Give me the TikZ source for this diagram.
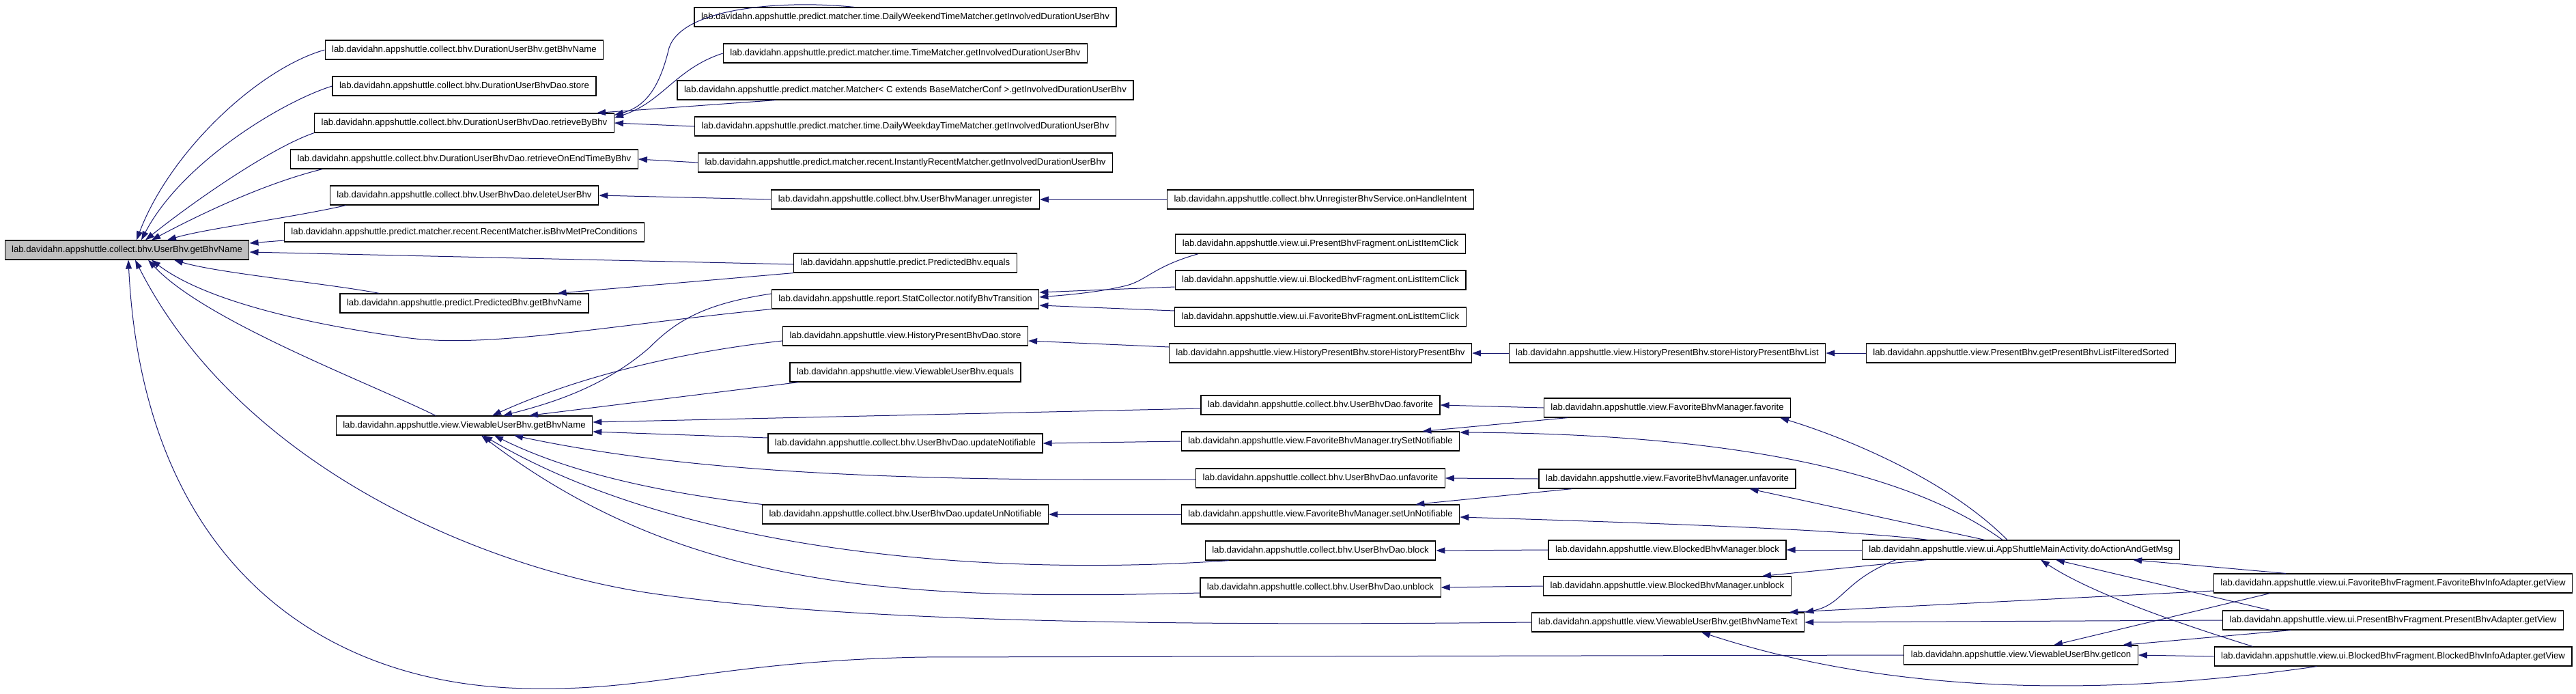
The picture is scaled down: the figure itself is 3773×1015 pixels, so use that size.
\documentclass[tikz,border=0pt]{standalone}
\usepackage{fontspec}
\setmainfont{Liberation Sans}
\usetikzlibrary{arrows.meta}
\definecolor{edgeblue}{HTML}{191970}
\definecolor{hlgray}{HTML}{BFBFBF}
\begin{document}
\begin{tikzpicture}[x=1pt, y=-1pt,
  fn/.style={draw=black, line width=1.2pt, fill=white, minimum height=28pt,
    inner xsep=10pt, inner ysep=0pt, font=\fontsize{13.2}{15}\selectfont},
  cur/.style={fn, fill=hlgray},
  call/.style={draw=edgeblue, line width=1pt, -{Triangle[length=13pt,width=9pt]}}]
  \useasboundingbox (0,0) rectangle (3773,1015);

  \node[cur] (ubn) at (186,366) {lab.davidahn.appshuttle.collect.bhv.UserBhv.getBhvName};

  \node[fn] (dubn) at (680,73) {lab.davidahn.appshuttle.collect.bhv.DurationUserBhv.getBhvName};
  \node[fn] (dstore) at (680,126) {lab.davidahn.appshuttle.collect.bhv.DurationUserBhvDao.store};
  \node[fn] (dretr) at (680,180) {lab.davidahn.appshuttle.collect.bhv.DurationUserBhvDao.retrieveByBhv};
  \node[fn] (dretrend) at (680,233) {lab.davidahn.appshuttle.collect.bhv.DurationUserBhvDao.retrieveOnEndTimeByBhv};
  \node[fn] (dudel) at (680,286) {lab.davidahn.appshuttle.collect.bhv.UserBhvDao.deleteUserBhv};
  \node[fn] (rmpre) at (680,340) {lab.davidahn.appshuttle.predict.matcher.recent.RecentMatcher.isBhvMetPreConditions};
  \node[fn] (pbn) at (680,444) {lab.davidahn.appshuttle.predict.PredictedBhv.getBhvName};
  \node[fn] (vbn) at (680,623) {lab.davidahn.appshuttle.view.ViewableUserBhv.getBhvName};

  \node[fn] (dwe) at (1326,25) {lab.davidahn.appshuttle.predict.matcher.time.DailyWeekendTimeMatcher.getInvolvedDurationUserBhv};
  \node[fn] (tm) at (1326,78) {lab.davidahn.appshuttle.predict.matcher.time.TimeMatcher.getInvolvedDurationUserBhv};
  \node[fn] (mat) at (1326,132) {lab.davidahn.appshuttle.predict.matcher.Matcher< C extends BaseMatcherConf >.getInvolvedDurationUserBhv};
  \node[fn] (dwd) at (1326,185) {lab.davidahn.appshuttle.predict.matcher.time.DailyWeekdayTimeMatcher.getInvolvedDurationUserBhv};
  \node[fn] (irm) at (1326,238) {lab.davidahn.appshuttle.predict.matcher.recent.InstantlyRecentMatcher.getInvolvedDurationUserBhv};
  \node[fn] (unreg) at (1326,292) {lab.davidahn.appshuttle.collect.bhv.UserBhvManager.unregister};
  \node[fn] (pbeq) at (1326,385) {lab.davidahn.appshuttle.predict.PredictedBhv.equals};
  \node[fn] (stat) at (1326,438) {lab.davidahn.appshuttle.report.StatCollector.notifyBhvTransition};
  \node[fn] (hstore) at (1326,492) {lab.davidahn.appshuttle.view.HistoryPresentBhvDao.store};
  \node[fn] (vbeq) at (1326,545) {lab.davidahn.appshuttle.view.ViewableUserBhv.equals};
  \node[fn] (updn) at (1326,649) {lab.davidahn.appshuttle.collect.bhv.UserBhvDao.updateNotifiable};
  \node[fn] (updun) at (1326,753) {lab.davidahn.appshuttle.collect.bhv.UserBhvDao.updateUnNotifiable};

  \node[fn] (onhandle) at (1934,292) {lab.davidahn.appshuttle.collect.bhv.UnregisterBhvService.onHandleIntent};
  \node[fn] (pfclick) at (1934,357) {lab.davidahn.appshuttle.view.ui.PresentBhvFragment.onListItemClick};
  \node[fn] (bfclick) at (1934,410) {lab.davidahn.appshuttle.view.ui.BlockedBhvFragment.onListItemClick};
  \node[fn] (ffclick) at (1934,464) {lab.davidahn.appshuttle.view.ui.FavoriteBhvFragment.onListItemClick};
  \node[fn] (hsp) at (1934,517) {lab.davidahn.appshuttle.view.HistoryPresentBhv.storeHistoryPresentBhv};
  \node[fn] (dfav) at (1934,593) {lab.davidahn.appshuttle.collect.bhv.UserBhvDao.favorite};
  \node[fn] (fmset) at (1934,646) {lab.davidahn.appshuttle.view.FavoriteBhvManager.trySetNotifiable};
  \node[fn] (dunfav) at (1934,700) {lab.davidahn.appshuttle.collect.bhv.UserBhvDao.unfavorite};
  \node[fn] (fmunset) at (1934,753) {lab.davidahn.appshuttle.view.FavoriteBhvManager.setUnNotifiable};
  \node[fn] (dblock) at (1934,806) {lab.davidahn.appshuttle.collect.bhv.UserBhvDao.block};
  \node[fn] (dunblock) at (1934,860) {lab.davidahn.appshuttle.collect.bhv.UserBhvDao.unblock};

  \node[fn] (hspl) at (2442,517) {lab.davidahn.appshuttle.view.HistoryPresentBhv.storeHistoryPresentBhvList};
  \node[fn] (fmfav) at (2442,597) {lab.davidahn.appshuttle.view.FavoriteBhvManager.favorite};
  \node[fn] (fmunfav) at (2442,701) {lab.davidahn.appshuttle.view.FavoriteBhvManager.unfavorite};
  \node[fn] (bmblock) at (2442,805) {lab.davidahn.appshuttle.view.BlockedBhvManager.block};
  \node[fn] (bmunblock) at (2442,858) {lab.davidahn.appshuttle.view.BlockedBhvManager.unblock};
  \node[fn] (vbnt) at (2443,911) {lab.davidahn.appshuttle.view.ViewableUserBhv.getBhvNameText};

  \node[fn] (pbsort) at (2960,517) {lab.davidahn.appshuttle.view.PresentBhv.getPresentBhvListFilteredSorted};
  \node[fn] (doact) at (2960,805) {lab.davidahn.appshuttle.view.ui.AppShuttleMainActivity.doActionAndGetMsg};
  \node[fn] (icon) at (2960,959) {lab.davidahn.appshuttle.view.ViewableUserBhv.getIcon};

  \node[fn] (fadapt) at (3505,854) {lab.davidahn.appshuttle.view.ui.FavoriteBhvFragment.FavoriteBhvInfoAdapter.getView};
  \node[fn] (padapt) at (3505,908) {lab.davidahn.appshuttle.view.ui.PresentBhvFragment.PresentBhvAdapter.getView};
  \node[fn] (badapt) at (3505,961) {lab.davidahn.appshuttle.view.ui.BlockedBhvFragment.BlockedBhvInfoAdapter.getView};

  % callers of UserBhv.getBhvName
  \draw[call] (dubn.west) .. controls (380,100) and (250,220) .. ([xshift=14pt]ubn.north);
  \draw[call] (dstore.west) .. controls (410,150) and (265,240) .. ([xshift=21pt]ubn.north);
  \draw[call] (dretr.south west) .. controls (400,215) and (290,290) .. ([xshift=27pt]ubn.north);
  \draw[call] ([xshift=47pt]dretrend.south west) .. controls (390,268) and (300,310) .. ([xshift=36pt]ubn.north);
  \draw[call] ([xshift=24pt]dudel.south west) .. controls (420,320) and (300,335) .. ([xshift=59pt]ubn.north);
  \draw[call] ([yshift=-12pt]rmpre.west) -- ([yshift=10pt]ubn.east);
  \draw[call] ([yshift=-2pt]pbeq.west) -- ([yshift=-3pt]ubn.east);
  \draw[call] ([xshift=58pt]pbn.north west) .. controls (480,415) and (320,400) .. ([xshift=69pt]ubn.south);
  \draw[call] (stat.south west) .. controls (900,475) and (720,510) .. (600,495)
    .. controls (450,475) and (300,440) .. ([xshift=36pt]ubn.south);
  \draw[call] ([xshift=-42pt]vbn.north) .. controls (540,560) and (300,470) .. ([xshift=31pt]ubn.south);
  \draw[call] (vbnt.west) .. controls (1600,918) and (1200,905) .. (950,868)
    .. controls (700,830) and (350,680) .. ([xshift=12pt]ubn.south);
  \draw[call] (icon.west) -- (1350,962) .. controls (1060,968) and (960,1010) .. (790,1008)
    .. controls (480,1010) and (210,830) .. ([xshift=2pt]ubn.south);

  \draw[call] ([xshift=-75pt]dwe.north) .. controls (1150,0) and (1000,10) .. (980,70)
    .. controls (968,120) and (950,155) .. ([yshift=-3pt]dretr.north east);
  \draw[call] (tm.west) .. controls (990,100) and (970,150) .. ([yshift=-7pt]dretr.north east);
  \draw[call] ([xshift=-190pt]mat.south) -- ([xshift=194pt]dretr.north);
  \draw[call] (dwd.west) -- (dretr.east);
  \draw[call] (irm.west) -- (dretrend.east);
  \draw[call] (unreg.west) -- (dudel.east);
  \draw[call] (onhandle.west) -- (unreg.east);
  \draw[call] (pbeq.south west) -- ([xshift=-46pt]pbn.north east);

  \draw[call] ([xshift=34pt]pfclick.south west) .. controls (1690,390) and (1680,410) .. (1650,418)
    .. controls (1610,428) and (1560,432) .. ([yshift=3pt]stat.east);
  \draw[call] ([yshift=-10pt]bfclick.west) -- ([yshift=10pt]stat.east);
  \draw[call] ([yshift=9pt]ffclick.west) -- ([yshift=-9pt]stat.east);
  \draw[call] ([yshift=9pt]hsp.west) -- ([yshift=-7pt]hstore.east);
  \draw[call] (hspl.west) -- (hsp.east);
  \draw[call] (pbsort.west) -- (hspl.east);

  % callers of ViewableUserBhv.getBhvName
  \draw[call] ([yshift=8pt]stat.west) .. controls (1030,445) and (990,470) .. (950,510)
    .. controls (880,570) and (800,592) .. ([xshift=57pt]vbn.north);
  \draw[call] ([yshift=-7pt]hstore.west) .. controls (1000,515) and (850,550) .. ([xshift=41pt]vbn.north);
  \draw[call] ([xshift=13pt]vbeq.south west) -- ([xshift=95pt]vbn.north);
  \draw[call] ([yshift=-5pt]dfav.west) -- ([yshift=5pt]vbn.east);
  \draw[call] ([yshift=8pt]updn.west) -- ([yshift=-9pt]vbn.east);
  \draw[call] ([yshift=-2pt]dunfav.west) .. controls (1300,705) and (1000,690) .. ([xshift=73pt]vbn.south);
  \draw[call] (updun.north west) .. controls (1000,725) and (850,700) .. ([xshift=44pt]vbn.south);
  \draw[call] ([xshift=35pt]dblock.south west) .. controls (1450,845) and (1000,810) .. ([xshift=28pt]vbn.south);
  \draw[call] ([yshift=-8pt]dunblock.west) .. controls (1300,880) and (1000,860) .. ([xshift=25pt]vbn.south);

  \draw[call] (fmset.west) -- (updn.east);
  \draw[call] (fmunset.west) -- (updun.east);
  \draw[call] (fmfav.west) -- (dfav.east);
  \draw[call] ([xshift=35pt]fmfav.south west) -- ([xshift=-55pt]fmset.north east);
  \draw[call] (fmunfav.west) -- (dunfav.east);
  \draw[call] ([xshift=49pt]fmunfav.south west) -- ([xshift=-65pt]fmunset.north east);
  \draw[call] (bmblock.west) -- (dblock.east);
  \draw[call] (bmunblock.west) -- (dunblock.east);

  % doActionAndGetMsg
  \draw[call] ([xshift=-27pt]doact.north) .. controls (2780,680) and (2500,635) .. ([yshift=13pt]fmset.east);
  \draw[call] ([xshift=-20pt]doact.north) .. controls (2850,700) and (2700,640) .. ([xshift=-16pt]fmfav.south east);
  \draw[call] ([xshift=-53pt]doact.north) -- ([xshift=-68pt]fmunfav.south east);
  \draw[call] ([xshift=-136pt]doact.north) .. controls (2700,775) and (2400,765) .. ([yshift=-4pt]fmunset.east);
  \draw[call] (doact.west) -- (bmblock.east);
  \draw[call] ([xshift=95pt]doact.south west) -- ([xshift=-43pt]bmunblock.north east);
  \draw[call] ([xshift=50pt]doact.south west) .. controls (2700,850) and (2700,885) .. (vbnt.north east);

  \draw[call] ([yshift=-11pt]fadapt.west) -- ([xshift=-23pt]vbnt.north east);
  \draw[call] (padapt.west) -- (vbnt.east);
  \draw[call] ([xshift=151pt]badapt.south west) .. controls (3050,1025) and (2750,1010) .. ([xshift=49pt]vbnt.south);
  \draw[call] ([xshift=106pt]fadapt.north west) -- ([xshift=164pt]doact.south);
  \draw[call] ([xshift=70pt]padapt.north west) -- ([xshift=51pt]doact.south);
  \draw[call] ([xshift=57pt]badapt.north west) .. controls (3150,900) and (3050,860) .. ([xshift=29pt]doact.south);
  \draw[call] ([xshift=83pt]fadapt.south west) -- ([xshift=48pt]icon.north);
  \draw[call] ([xshift=100pt]padapt.south west) -- ([xshift=149pt]icon.north);
  \draw[call] (badapt.west) -- (icon.east);
\end{tikzpicture}
\end{document}
